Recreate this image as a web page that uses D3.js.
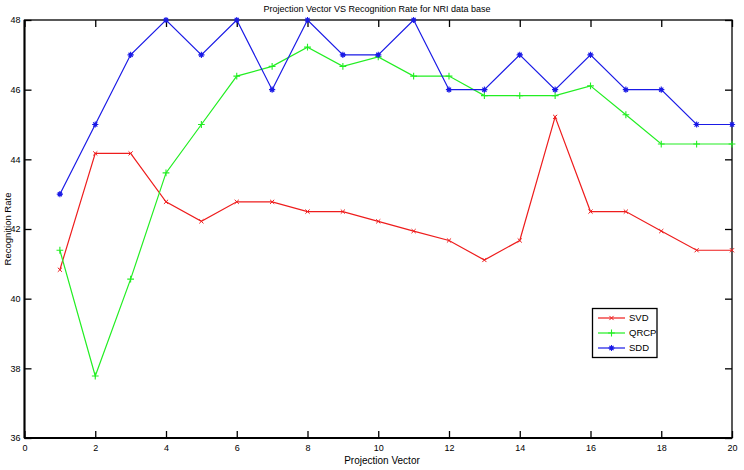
<!DOCTYPE html>
<html><head><meta charset="utf-8">
<script src="https://cdn.jsdelivr.net/npm/d3@7"></script>
<style>
body{margin:0;background:#fff;}
text{font-family:"Liberation Sans",Arial,sans-serif;}
</style></head>
<body><svg id="c" width="744" height="470"></svg>
<script>
const xValues = [1,2,3,4,5,6,7,8,9,10,11,12,13,14,15,16,17,18,19,20];
const svd  = [40.83,44.17,44.17,42.78,42.22,42.78,42.78,42.5,42.5,42.22,41.94,41.67,41.11,41.67,45.22,42.5,42.5,41.94,41.39,41.39];
const qrcp = [41.39,37.78,40.56,43.61,45,46.39,46.67,47.22,46.67,46.94,46.39,46.39,45.83,45.83,45.83,46.11,45.28,44.44,44.44,44.44];
const sdd  = [43,45,47,48,47,48,46,48,47,47,48,46,46,47,46,47,46,46,45,45];
const seriesNames = ["SVD","QRCP","SDD"];
const xTicks = [0,2,4,6,8,10,12,14,16,18,20];
const yTicks = [36,38,40,42,44,46,48];
const titleText = "Projection Vector VS Recognition Rate for NRI data base";
const xLabel = "Projection Vector";
const yLabel = "Recognition Rate";

const colors = ["#ee1c1c","#22ee22","#1a1ae6"];
const markers = ["x","+","*"];
const data = [svd,qrcp,sdd];

const svg = d3.select("#c");
const L=24.5, R=732, T=20, B=438;
const x = d3.scaleLinear().domain([0,20]).range([L,R]);
const y = d3.scaleLinear().domain([36,48]).range([B,T]);

// frame
svg.append("rect").attr("x",L).attr("y",T).attr("width",R-L).attr("height",B-T)
  .attr("fill","none").attr("stroke","#000").attr("stroke-width",1.3);
svg.append("line").attr("x1",L).attr("x2",L).attr("y1",T).attr("y2",B).attr("stroke","#000").attr("stroke-width",2);
svg.append("line").attr("x1",L).attr("x2",R).attr("y1",B).attr("y2",B).attr("stroke","#000").attr("stroke-width",2);

// axes
const xb = svg.append("g").attr("transform",`translate(0,${B})`)
  .call(d3.axisBottom(x).tickValues(xTicks).tickSizeInner(-7).tickSizeOuter(0).tickPadding(10).tickFormat(d3.format("d")));
const xt = svg.append("g").attr("transform",`translate(0,${T})`)
  .call(d3.axisTop(x).tickValues(xTicks).tickSizeInner(-7).tickSizeOuter(0).tickFormat(""));
const yl = svg.append("g").attr("transform",`translate(${L},0)`)
  .call(d3.axisLeft(y).tickValues(yTicks).tickSizeInner(-7).tickSizeOuter(0).tickPadding(4).tickFormat(d3.format("d")));
const yr = svg.append("g").attr("transform",`translate(${R},0)`)
  .call(d3.axisRight(y).tickValues(yTicks).tickSizeInner(-7).tickSizeOuter(0).tickFormat(""));
[xb,xt,yl,yr].forEach(g=>{
  g.select(".domain").remove();
  g.selectAll(".tick line").attr("stroke","#000").attr("stroke-width",1.3);
  g.selectAll("text").attr("font-size",9).attr("fill","#000");
});
xb.selectAll("text").attr("dy","0.3em");

function drawMarker(g, type, cx, cy, col){
  const s=2.6;
  if(type==="x"){
    g.append("path").attr("d",`M${cx-s*0.8},${cy-s*0.8}L${cx+s*0.8},${cy+s*0.8}M${cx-s*0.8},${cy+s*0.8}L${cx+s*0.8},${cy-s*0.8}`)
      .attr("stroke",col).attr("stroke-width",1);
  } else if(type==="+"){
    g.append("path").attr("d",`M${cx-s*1.3},${cy}L${cx+s*1.3},${cy}M${cx},${cy-s*1.3}L${cx},${cy+s*1.3}`)
      .attr("stroke",col).attr("stroke-width",1.1);
  } else {
    g.append("path").attr("d",`M${cx-s*1.2},${cy}L${cx+s*1.2},${cy}M${cx},${cy-s*1.2}L${cx},${cy+s*1.2}M${cx-s*0.8},${cy-s*0.8}L${cx+s*0.8},${cy+s*0.8}M${cx-s*0.8},${cy+s*0.8}L${cx+s*0.8},${cy-s*0.8}`)
      .attr("stroke",col).attr("stroke-width",1.1);
    g.append("circle").attr("cx",cx).attr("cy",cy).attr("r",1.8).attr("fill",col);
  }
}

const line = d3.line().x((d,i)=>x(xValues[i])).y(d=>y(d));
data.forEach((vals,k)=>{
  const g = svg.append("g");
  g.append("path").datum(vals).attr("d",line).attr("fill","none").attr("stroke",colors[k]).attr("stroke-width",1.2);
  vals.forEach((v,i)=>drawMarker(g,markers[k],x(xValues[i]),y(v),colors[k]));
});

// title and labels
svg.append("text").attr("x",377).attr("y",12).attr("text-anchor","middle").attr("font-size",9).text(titleText);
svg.append("text").attr("x",382).attr("y",464).attr("text-anchor","middle").attr("font-size",10).text(xLabel);
svg.append("text").attr("transform","translate(8,229) rotate(-90)").attr("text-anchor","middle").attr("font-size",9.5).attr("dy","0.35em").text(yLabel);

// legend
const lg = svg.append("g");
lg.append("rect").attr("x",592.5).attr("y",308.5).attr("width",64.5).attr("height",49).attr("fill","#fff").attr("stroke","#000").attr("stroke-width",1.3);
seriesNames.forEach((n,k)=>{
  const yy = 318+k*15;
  lg.append("line").attr("x1",598).attr("x2",625).attr("y1",yy).attr("y2",yy).attr("stroke",colors[k]).attr("stroke-width",1.2);
  drawMarker(lg,markers[k],611.5,yy,colors[k]);
  lg.append("text").attr("x",629).attr("y",yy).attr("dy","0.35em").attr("font-size",9.5).text(n);
});
</script></body></html>
